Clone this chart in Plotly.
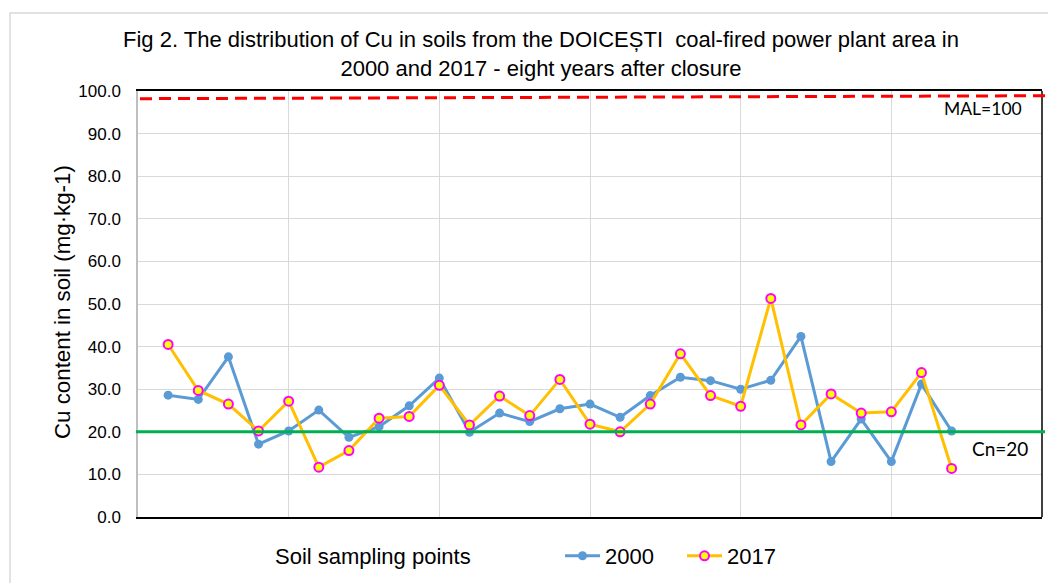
import plotly.graph_objects as go

# ---- data ----
points = list(range(1, 28))
cu_2000 = [28.6, 27.6, 37.6, 17.1, 20.2, 25.1, 18.7, 21.2, 26.1, 32.6,
           19.9, 24.4, 22.4, 25.4, 26.5, 23.4, 28.5, 32.8, 32.0, 30.0,
           32.1, 42.4, 13.0, 23.0, 13.0, 31.2, 20.2]
cu_2017 = [40.5, 29.7, 26.5, 20.2, 27.2, 11.7, 15.6, 23.2, 23.6, 30.9,
           21.6, 28.4, 23.8, 32.3, 21.8, 20.0, 26.5, 38.3, 28.5, 26.0,
           51.3, 21.6, 28.9, 24.4, 24.7, 33.9, 11.4]
series_names = ["2000", "2017"]
y_ticks = [0, 10, 20, 30, 40, 50, 60, 70, 80, 90, 100]
x_grid = [0, 5, 10, 15, 20, 25, 30]
cn_value = 20
mal_line = [98.2, 98.9]   # drawn MAL marker line (start, end)
title_text = ("Fig 2. The distribution of Cu in soils from the DOICEȘTI  coal-fired power plant area in"
              "<br>2000 and 2017 - eight years after closure")
y_title = "Cu content in soil (mg·kg-1)"
x_title = "Soil sampling points"

OFF = 8  # page body margin
W, H = 1056 - OFF, 583 - OFF
# plot area in page pixels: x 138..1042, y 91..517
PL, PR, PT, PB = 138, 1042, 91, 517
L, R, T, B = PL - OFF, W - (PR - OFF), PT - OFF, H - (PB - OFF)
pw, ph = PR - PL, PB - PT


def px(x):
    return (x - PL) / pw


def py(y):
    return (PB - y) / ph


ARIAL = "Liberation Sans, Arial, sans-serif"
CAL = "Lato, Carlito, sans-serif"

fig = go.Figure()
fig.add_trace(go.Scatter(
    x=points, y=cu_2000, name=series_names[0], mode="lines+markers",
    line=dict(color="#5b9bd5", width=3),
    marker=dict(color="#5b9bd5", size=9, symbol="circle"),
))
fig.add_trace(go.Scatter(
    x=points, y=cu_2017, name=series_names[1], mode="lines+markers",
    line=dict(color="#ffc000", width=3),
    marker=dict(color="#ffff00", size=9, symbol="circle",
                line=dict(color="#ff00ff", width=2)),
))

shapes = [
    # outer chart border
    dict(type="rect", xref="paper", yref="paper",
         x0=px(10), x1=px(1070), y0=py(600), y1=py(13),
         line=dict(color="#d9d9d9", width=1.5), layer="below"),
    # right border of plot area
    dict(type="line", xref="paper", yref="paper", x0=1, x1=1, y0=0, y1=1,
         line=dict(color="black", width=1.5)),
    # Cn line
    dict(type="line", xref="paper", yref="y", x0=px(136), x1=px(1045),
         y0=cn_value, y1=cn_value, line=dict(color="#00b050", width=3)),
    # MAL dashed line
    dict(type="line", xref="paper", yref="y", x0=px(140), x1=px(1060),
         y0=mal_line[0], y1=mal_line[1],
         line=dict(color="#ff0000", width=3, dash="12px,7px")),
]

annotations = [
    dict(text=title_text, xref="paper", yref="paper", x=px(541), y=py(54),
         xanchor="center", yanchor="middle", showarrow=False,
         font=dict(family=ARIAL, size=22, color="black")),
    dict(text=y_title, xref="paper", yref="paper", x=px(62), y=py(302),
         xanchor="center", yanchor="middle", textangle=-90, showarrow=False,
         font=dict(family=ARIAL, size=22.3, color="black")),
    dict(text=x_title, xref="paper", yref="paper", x=px(273), y=py(556),
         xanchor="left", yanchor="middle", showarrow=False,
         font=dict(family=ARIAL, size=22, color="black")),
    dict(text="MAL=100", xref="paper", yref="paper", x=px(1024), y=py(108),
         xanchor="right", yanchor="middle", showarrow=False,
         font=dict(family=CAL, size=17.5, color="black")),
    dict(text="Cn=20", xref="paper", yref="paper", x=px(1030), y=py(448),
         xanchor="right", yanchor="middle", showarrow=False,
         font=dict(family=CAL, size=19, color="black")),
]

fig.update_layout(
    width=W, height=H,
    margin=dict(l=L, r=R, t=T, b=B, pad=0, autoexpand=False),
    paper_bgcolor="white", plot_bgcolor="white",
    showlegend=True,
    legend=dict(orientation="h", x=px(560), y=py(556), xanchor="left",
                yanchor="middle", font=dict(family=ARIAL, size=22, color="black"),
                bgcolor="rgba(0,0,0,0)", itemwidth=35, tracegroupgap=0,
                entrywidth=72, entrywidthmode="pixels"),
    shapes=shapes, annotations=annotations,
    xaxis=dict(range=[0, 30], tickmode="array", tickvals=x_grid, showticklabels=False,
               showgrid=True, gridcolor="#d9d9d9", gridwidth=1,
               showline=True, linecolor="black", linewidth=1.5, mirror=True,
               zeroline=False, ticks=""),
    yaxis=dict(range=[0, 100], tickmode="array", tickvals=y_ticks,
               ticktext=[f"{v:.1f}" for v in y_ticks],
               showgrid=True, gridcolor="#d9d9d9", gridwidth=1,
               showline=True, linecolor="#bfbfbf", linewidth=1.5,
               zeroline=False, ticks="", ticklabelstandoff=12,
               tickfont=dict(family=ARIAL, size=17, color="black")),
)

fig.write_html("out.html")
